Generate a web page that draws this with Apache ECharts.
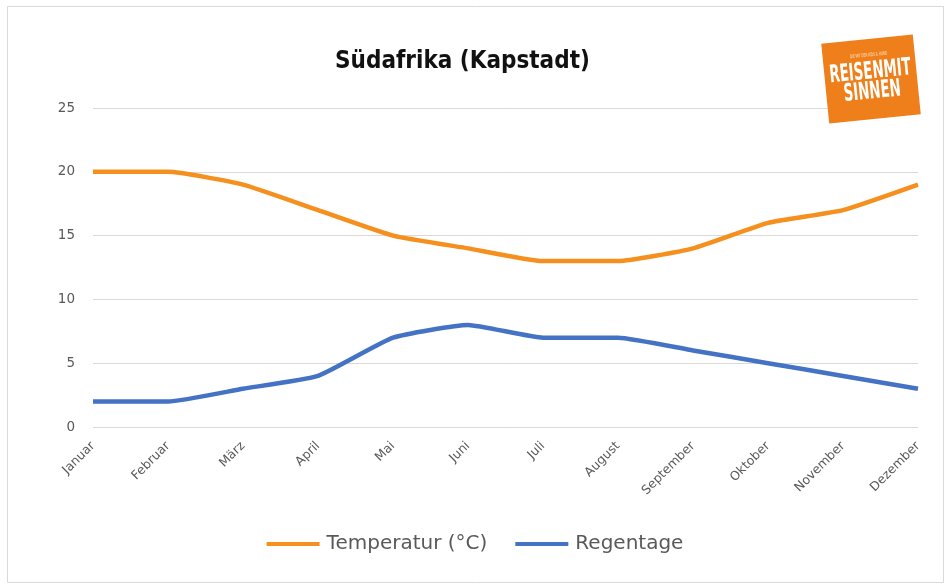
<!DOCTYPE html>
<html>
<head>
<meta charset="utf-8">
<script src="https://cdn.jsdelivr.net/npm/echarts@6/dist/echarts.min.js"></script>
<style>
	html,body{margin:0;padding:0;background:#fff;}
	#chart{width:950px;height:585px;}
</style>
</head>
<body>
<div id="chart"></div>
<script>
	// Monate
	var months = ['Januar','Februar','März','April','Mai','Juni','Juli','August','September','Oktober','November','Dezember'];
	var temperatur = [20,20,19,17,15,14,13,13,14,16,17,19];
	var regentage = [2,2,3,4,7,8,7,7,6,5,4,3];
	var yTicks = [0,5,10,15,20,25];

	var chart = echarts.init(document.getElementById('chart'));
	var logoFont = 'Liberation Sans Narrow, DejaVu Sans Condensed, sans-serif';
	var option = {
		backgroundColor:'#fff',
		animation:false,
		title:{
			text:'Südafrika (Kapstadt)',
			left:330,
			top:45,
			textStyle:{
				fontFamily:'DejaVu Sans Condensed, sans-serif',
				fontWeight:'bold',
				fontSize:24,
				color:'#111'
			}
		},
		grid:{left:93,right:32,top:108,bottom:158},
		legend:{
			bottom:26,
			left:'center',
			itemWidth:53,
			itemHeight:4,
			itemGap:28,
			icon:'rect',
			textStyle:{fontFamily:'DejaVu Sans, sans-serif',fontSize:20,color:'#595959',padding:[0,0,0,2]},
			data:['Temperatur (°C)','Regentage']
		},
		xAxis:{
			type:'category',
			data:months,
			boundaryGap:false,
			axisLine:{show:false},
			axisTick:{show:false},
			axisLabel:{
				rotate:45,
				margin:17,
				color:'#595959',
				fontFamily:'DejaVu Sans, sans-serif',
				fontSize:12.5
			}
		},
		yAxis:{
			type:'value',
			min:yTicks[0],
			max:yTicks[yTicks.length-1],
			interval:5,
			axisLine:{show:false},
			axisTick:{show:false},
			splitLine:{lineStyle:{color:'#d9d9d9',width:1}},
			axisLabel:{
				margin:18,
				color:'#595959',
				fontFamily:'DejaVu Sans, sans-serif',
				fontSize:13.5
			}
		},
		series:[
			{
				name:'Temperatur (°C)',
				type:'line',
				data:temperatur,
				smooth:0.15,
				showSymbol:false,
				itemStyle:{color:'#F5901E'},
				lineStyle:{color:'#F5901E',width:4.5}
			},
			{
				name:'Regentage',
				type:'line',
				data:regentage,
				smooth:0.15,
				showSymbol:false,
				itemStyle:{color:'#4472C4'},
				lineStyle:{color:'#4472C4',width:4.5}
			}
		],
		graphic:[
			{
				type:'rect',
				left:5,top:4,
				shape:{width:936,height:576},
				style:{fill:'none',stroke:'#d9d9d9',lineWidth:1},
				silent:true
			},
			{
				type:'group',
				x:871,y:79,
				rotation:0.1,
				z:100,
				children:[
					{type:'rect',z:100,shape:{x:-46,y:-40,width:92,height:80},style:{fill:'#EE7F1B'}},
					{
						type:'group',
						scaleX:0.62,
						children:[
							{type:'text',z:101,style:{x:0,y:-24,text:'DIE MIT DEN KIDS & HUND',fill:'#FFE3C4',fontSize:5,align:'center',verticalAlign:'middle',fontFamily:logoFont}},
							{type:'text',z:101,style:{x:0,y:-7,text:'REISENMIT',fill:'#fff',fontSize:24,fontWeight:'bold',align:'center',verticalAlign:'middle',fontFamily:logoFont}},
							{type:'text',z:101,style:{x:0,y:13,text:'SINNEN',fill:'#fff',fontSize:24,fontWeight:'bold',align:'center',verticalAlign:'middle',fontFamily:logoFont}}
						]
					}
				]
			}
		]
	};
	chart.setOption(option);
</script>
</body>
</html>
